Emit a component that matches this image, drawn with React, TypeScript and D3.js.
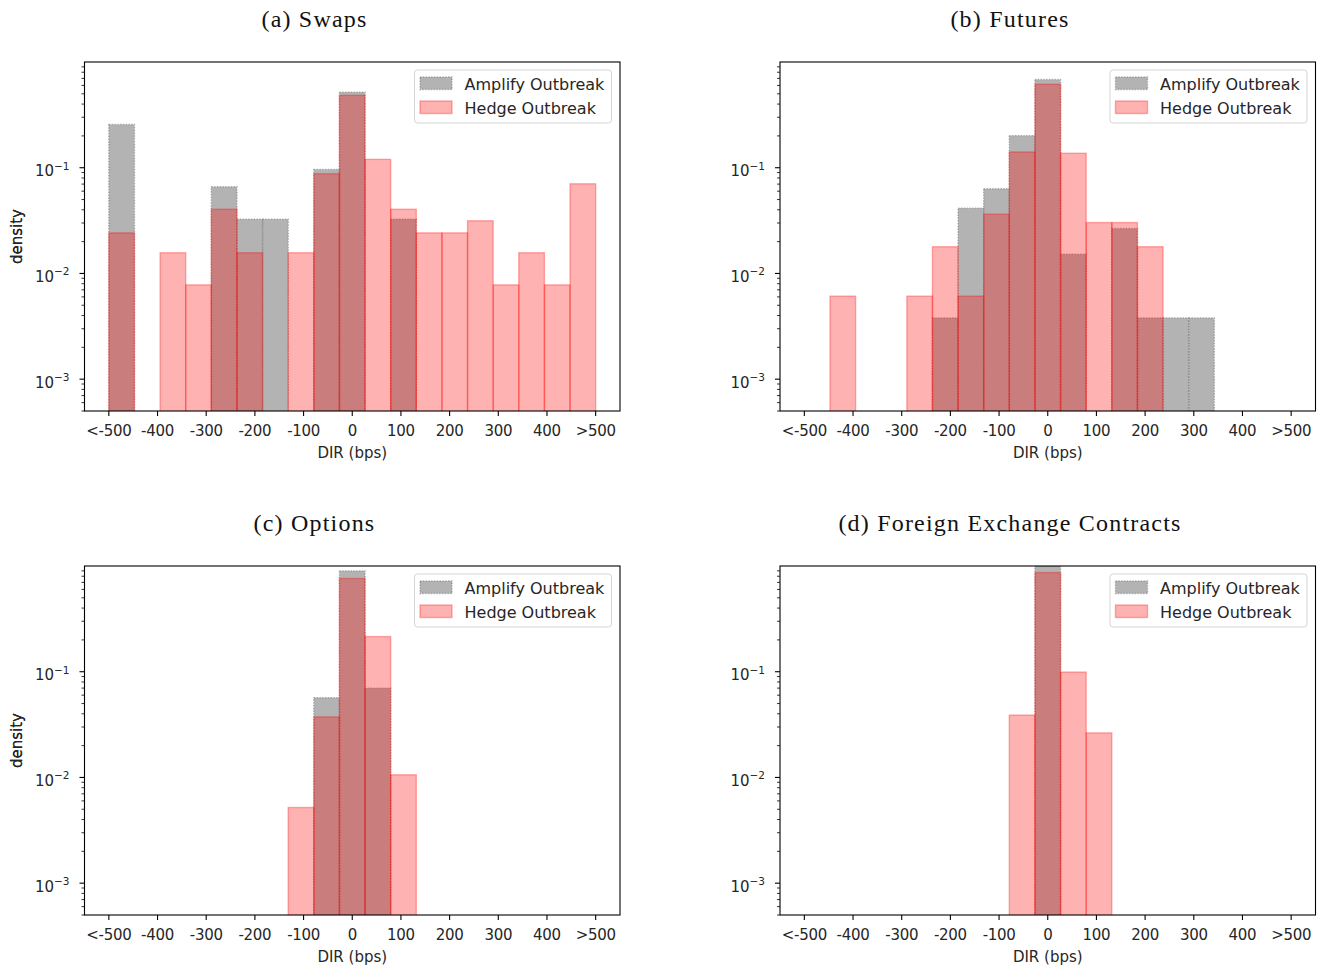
import React, { useEffect, useRef } from 'react';
import * as d3 from 'd3';

// histogram bins: 19 equal bins between -500 and 500 bps
const binRange = [-500, 500];
const binCount = 19;

const xTicks = [-500, -400, -300, -200, -100, 0, 100, 200, 300, 400, 500];
const xTickLabels = ['<-500', '-400', '-300', '-200', '-100', '0', '100', '200', '300', '400', '>500'];
const yMajor = [1e-3, 1e-2, 1e-1];
const yMajorExp = ['\u22123', '\u22122', '\u22121'];

const seriesNames = ['Amplify Outbreak', 'Hedge Outbreak'];
const panelTitles = ['(a) Swaps', '(b) Futures', '(c) Options', '(d) Foreign Exchange Contracts'];

// density per bin (0 = empty bin)
const swapsAmplify = [0.256, 0, 0, 0, 0.066, 0.0326, 0.0326, 0, 0.0964, 0.518, 0, 0.0326, 0, 0, 0, 0, 0, 0, 0];
const swapsHedge = [0.0242, 0, 0.0157, 0.0078, 0.0405, 0.0157, 0, 0.0157, 0.0877, 0.484, 0.12, 0.0405, 0.0242, 0.0242, 0.0315, 0.0078, 0.0157, 0.0078, 0.0705];

const futuresAmplify = [0, 0, 0, 0, 0, 0.0038, 0.0415, 0.0632, 0.201, 0.682, 0.0152, 0, 0.0266, 0.0038, 0.0038, 0.0038, 0, 0, 0];
const futuresHedge = [0, 0.0061, 0, 0, 0.0061, 0.0179, 0.0061, 0.0364, 0.141, 0.616, 0.137, 0.0303, 0.0303, 0.0179, 0, 0, 0, 0, 0];

const optionsAmplify = [0, 0, 0, 0, 0, 0, 0, 0, 0.0568, 0.9, 0.07, 0, 0, 0, 0, 0, 0, 0, 0];
const optionsHedge = [0, 0, 0, 0, 0, 0, 0, 0.0052, 0.0374, 0.762, 0.215, 0.0106, 0, 0, 0, 0, 0, 0, 0];

const fxAmplify = [0, 0, 0, 0, 0, 0, 0, 0, 0, 1.0, 0, 0, 0, 0, 0, 0, 0, 0, 0];
const fxHedge = [0, 0, 0, 0, 0, 0, 0, 0, 0.0389, 0.867, 0.0993, 0.0264, 0, 0, 0, 0, 0, 0, 0];

const panelData = [
    [swapsAmplify, swapsHedge],
    [futuresAmplify, futuresHedge],
    [optionsAmplify, optionsHedge],
    [fxAmplify, fxHedge],
];

const W = 1326;
const H = 970;
const plotW = 535.5;
const plotH = 349;
const origins = [
    { x: 84.5, y: 62 },
    { x: 780, y: 62 },
    { x: 84.5, y: 566 },
    { x: 780, y: 566 },
];

const sansFont = "'DejaVu Sans', sans-serif";
const serifFont = "'Liberation Serif', serif";

const grayFill = 'rgba(128,128,128,0.6)';
const redFill = 'rgba(255,0,0,0.3)';

export default function App() {
    const svgRef = useRef<SVGSVGElement>(null);

    useEffect(() => {
        const svg = d3.select(svgRef.current);
        svg.selectAll('*').remove();

        const step = (binRange[1] - binRange[0]) / binCount;
        const edges = d3.range(binCount + 1).map(i => binRange[0] + i * step);

        const x = d3.scaleLinear().domain([-550, 550]).range([0, plotW]);
        const y = d3.scaleLog().domain([5e-4, 1]).range([plotH, 0]);

        const minor: number[] = [];
        [-4, -3, -2, -1].forEach(e => {
            for (let k = 2; k <= 9; k++) {
                const v = k * Math.pow(10, e);
                if (v >= 5e-4 && v <= 1) minor.push(v);
            }
        });

        panelData.forEach((series, p) => {
            const o = origins[p];
            const g = svg.append('g').attr('transform', `translate(${o.x},${o.y})`);

            // title
            svg.append('text')
                .attr('x', o.x + 230)
                .attr('y', o.y - 35)
                .attr('text-anchor', 'middle')
                .attr('font-family', serifFont)
                .attr('font-size', 24)
                .attr('letter-spacing', 1.2)
                .attr('fill', '#111')
                .text(panelTitles[p]);

            const clipId = `clip${p}`;
            g.append('clipPath').attr('id', clipId)
                .append('rect').attr('width', plotW).attr('height', plotH);

            const bars = g.append('g').attr('clip-path', `url(#${clipId})`);

            // amplify (gray, dotted edge) first, then hedge (red) on top
            series.forEach((vals, s) => {
                bars.selectAll(`.bar${s}`)
                    .data(vals.map((v, i) => ({ v, i })).filter(d => d.v > 0))
                    .enter()
                    .append('rect')
                    .attr('x', d => x(edges[d.i]))
                    .attr('width', d => x(edges[d.i + 1]) - x(edges[d.i]))
                    .attr('y', d => y(d.v))
                    .attr('height', d => plotH + 5 - y(d.v))
                    .attr('fill', s === 0 ? grayFill : redFill)
                    .attr('stroke', s === 0 ? grayFill : redFill)
                    .attr('stroke-width', 1.4)
                    .attr('stroke-dasharray', s === 0 ? '1.4,1.4' : null);
            });

            // frame
            g.append('rect')
                .attr('width', plotW).attr('height', plotH)
                .attr('fill', 'none').attr('stroke', '#000').attr('stroke-width', 1.1);

            // x ticks
            xTicks.forEach((t, i) => {
                g.append('line')
                    .attr('x1', x(t)).attr('x2', x(t))
                    .attr('y1', plotH).attr('y2', plotH + 5)
                    .attr('stroke', '#000').attr('stroke-width', 1.1);
                g.append('text')
                    .attr('x', x(t)).attr('y', plotH + 25)
                    .attr('text-anchor', 'middle')
                    .attr('font-family', sansFont).attr('font-size', 15)
                    .attr('letter-spacing', -0.3)
                    .attr('fill', '#262626')
                    .text(xTickLabels[i]);
            });

            g.append('text')
                .attr('x', plotW / 2).attr('y', plotH + 47)
                .attr('text-anchor', 'middle')
                .attr('font-family', sansFont).attr('font-size', 15)
                .attr('fill', '#262626')
                .text('DIR (bps)');

            // y ticks
            minor.forEach(v => {
                g.append('line')
                    .attr('x1', -3).attr('x2', 0)
                    .attr('y1', y(v)).attr('y2', y(v))
                    .attr('stroke', '#000').attr('stroke-width', 0.8);
            });
            yMajor.forEach((v, i) => {
                g.append('line')
                    .attr('x1', -5).attr('x2', 0)
                    .attr('y1', y(v)).attr('y2', y(v))
                    .attr('stroke', '#000').attr('stroke-width', 1.1);
                const t = g.append('text')
                    .attr('x', -15).attr('y', y(v) + 8.5)
                    .attr('text-anchor', 'end')
                    .attr('font-family', sansFont).attr('font-size', 15)
                    .attr('fill', '#262626');
                t.append('tspan').text('10');
                t.append('tspan').attr('dy', -6.5).attr('font-size', 10.5).text(yMajorExp[i]);
            });

            g.append('text')
                .attr('transform', `translate(${22 - o.x},${plotH / 2}) rotate(-90)`)
                .attr('text-anchor', 'middle')
                .attr('font-family', sansFont).attr('font-size', 15)
                .attr('fill', '#262626')
                .text('density');

            // legend
            const lg = g.append('g').attr('transform', `translate(${plotW - 8.5 - 197},8)`);
            lg.append('rect')
                .attr('width', 197).attr('height', 53).attr('rx', 3)
                .attr('fill', 'rgba(255,255,255,0.8)')
                .attr('stroke', '#d5d5d5').attr('stroke-width', 1);
            seriesNames.forEach((name, s) => {
                lg.append('rect')
                    .attr('x', 5.5).attr('y', 7 + s * 24)
                    .attr('width', 32).attr('height', 12.5)
                    .attr('fill', s === 0 ? grayFill : redFill)
                    .attr('stroke', s === 0 ? grayFill : redFill)
                    .attr('stroke-width', 1.4)
                    .attr('stroke-dasharray', s === 0 ? '1.4,1.4' : null);
                lg.append('text')
                    .attr('x', 50).attr('y', 19.5 + s * 24)
                    .attr('font-family', sansFont).attr('font-size', 16)
                    .attr('fill', '#262626')
                    .text(name);
            });
        });
    }, []);

    return (
        <div style={{ position: 'absolute', left: 0, top: 0, background: '#fff' }}>
            <svg ref={svgRef} width={W} height={H} style={{ display: 'block' }} />
        </div>
    );
}
